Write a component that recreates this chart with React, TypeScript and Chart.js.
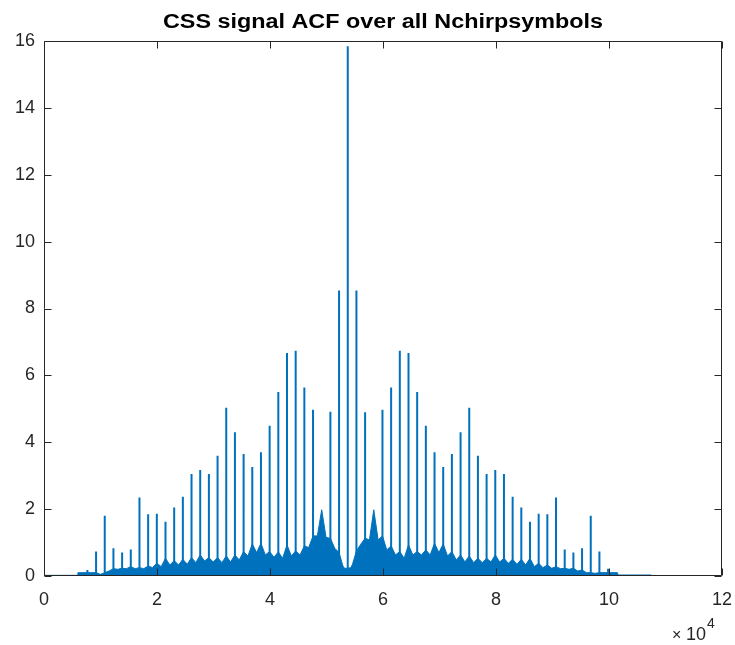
import React, { useEffect, useRef } from "react";
import { Chart, registerables } from "chart.js";

Chart.register(...registerables);

const TITLE = "CSS signal ACF over all Nchirpsymbols";
const X_MIN = 0;
const X_MAX = 120000;
const X_STEP = 20000;
const Y_MIN = 0;
const Y_MAX = 16;
const Y_STEP = 2;
const X_EXPONENT = "4";

// lag positions (samples) of the periodic ACF spikes
const spikeLags = [
  7680, 9216, 10752, 12288, 13824, 15360, 16896, 18432, 19968, 21504, 23040,
  24576, 26112, 27648, 29184, 30720, 32256, 33792, 35328, 36864, 38400, 39936,
  41472, 43008, 44544, 46080, 47616, 50688, 52224, 53760, 55296, 56832, 59904,
  61440, 62976, 64512, 66048, 67584, 69120, 70656, 72192, 73728, 75264, 76800,
  78336, 79872, 81408, 82944, 84480, 86016, 87552, 89088, 90624, 92160, 93696,
  95232, 96768, 98304, 99840,
];
// spike heights
const spikeHeights = [
  0.18, 0.73, 1.8, 0.83, 0.7, 0.79, 2.35, 1.85, 1.86, 1.62, 2.05,
  2.37, 3.05, 3.17, 3.05, 3.6, 5.03, 4.3, 3.65, 3.26, 3.7, 4.49,
  5.5, 6.67, 6.74, 5.64, 4.97, 4.91, 8.54, 15.84, 8.54, 4.9, 4.97,
  5.64, 6.74, 6.67, 5.5, 4.49, 3.7, 3.26, 3.65, 4.3, 5.03, 3.6,
  3.05, 3.17, 3.05, 2.37, 2.05, 1.62, 1.86, 1.85, 2.35, 0.79, 0.7,
  0.83, 1.8, 0.73, 0.22,
];

// envelope of the dense side-lobe floor
const envLags = [
  0, 5900, 6000, 7680, 8448, 9216, 9984, 10752, 11520, 12288, 13056, 13824,
  14592, 15360, 16128, 16896, 17664, 18432, 19200, 19968, 20736, 21504, 22272,
  23040, 23808, 24576, 25344, 26112, 26880, 27648, 28416, 29184, 29952, 30720,
  31488, 32256, 33024, 33792, 34560, 35328, 36096, 36864, 37632, 38400, 39168,
  39936, 40704, 41472, 42240, 43008, 43776, 44544, 45312, 46080, 46848, 47616,
  48384, 49152, 49920, 50688, 51456, 52224, 52900, 53200, 53760, 54300, 54600,
  55296, 56064, 56832, 57600, 58368, 59136, 59904, 60672, 61440, 62208, 62976,
  63744, 64512, 65280, 66048, 66816, 67584, 68352, 69120, 69888, 70656, 71424,
  72192, 72960, 73728, 74496, 75264, 76032, 76800, 77568, 78336, 79104, 79872,
  80640, 81408, 82176, 82944, 83712, 84480, 85248, 86016, 86784, 87552, 88320,
  89088, 89856, 90624, 91392, 92160, 92928, 93696, 94464, 95232, 96000, 96768,
  97536, 98304, 99840, 101500, 101600, 107500, 107520,
];
const envValues = [
  0.02, 0.02, 0.1, 0.1, 0.1, 0.1, 0.05, 0.1, 0.15, 0.22, 0.2, 0.23,
  0.22, 0.28, 0.22, 0.25, 0.22, 0.3, 0.25, 0.38, 0.28, 0.53, 0.33,
  0.46, 0.33, 0.5, 0.35, 0.55, 0.4, 0.63, 0.45, 0.55, 0.42, 0.55,
  0.4, 0.6, 0.42, 0.63, 0.48, 0.73, 0.6, 0.96, 0.7, 0.98, 0.63,
  0.73, 0.56, 0.72, 0.53, 0.93, 0.6, 0.75, 0.63, 0.9, 0.85, 1.2,
  1.2, 1.98, 1.15, 1.13, 0.83, 0.7, 0.3, 0.23, 0.23, 0.25, 0.35,
  0.75, 0.95, 1.13, 1.08, 1.98, 1.08, 1.2, 0.78, 0.9, 0.63, 0.73,
  0.53, 0.93, 0.63, 0.73, 0.63, 0.78, 0.63, 0.98, 0.7, 0.96, 0.6,
  0.73, 0.48, 0.63, 0.42, 0.6, 0.4, 0.53, 0.4, 0.53, 0.42, 0.63,
  0.42, 0.53, 0.38, 0.5, 0.35, 0.5, 0.33, 0.53, 0.28, 0.38, 0.25,
  0.33, 0.23, 0.28, 0.22, 0.23, 0.2, 0.23, 0.15, 0.18, 0.1, 0.1,
  0.08, 0.1, 0.1, 0.1, 0.03, 0.03, 0,
];

const LINE_COLOR = "#0072BD";
const AXIS_COLOR = "#262626";
const FONT_FAMILY = '"Liberation Sans", Arial, Helvetica, sans-serif';
const TICK_FONT_SIZE = 18;
const TITLE_WIDTH = 440;

const framePlugin = {
  id: "matlabFrame",
  afterDraw(chart: any) {
    const { ctx, chartArea: a, scales } = chart;
    const L = Math.round(a.left) + 0.5;
    const R = Math.round(a.right) - 0.5;
    const T = Math.round(a.top) + 0.5;
    const B = Math.round(a.bottom) - 0.5;
    ctx.save();
    ctx.strokeStyle = AXIS_COLOR;
    ctx.lineWidth = 1;
    ctx.beginPath();
    ctx.rect(L, T, R - L, B - T);
    ctx.stroke();
    const tl = 7;
    ctx.beginPath();
    for (let v = X_MIN; v <= X_MAX; v += X_STEP) {
      const px = Math.round(scales.x.getPixelForValue(v)) + 0.5;
      ctx.moveTo(px, B);
      ctx.lineTo(px, B - tl);
      ctx.moveTo(px, T);
      ctx.lineTo(px, T + tl);
    }
    for (let v = Y_MIN; v <= Y_MAX; v += Y_STEP) {
      const py = Math.round(scales.y.getPixelForValue(v)) + 0.5;
      ctx.moveTo(L, py);
      ctx.lineTo(L + tl, py);
      ctx.moveTo(R, py);
      ctx.lineTo(R - tl, py);
    }
    ctx.stroke();

    // title (slightly wide Helvetica-like rendering)
    ctx.save();
    ctx.fillStyle = "#000000";
    ctx.font = `bold 20px ${FONT_FAMILY}`;
    ctx.textAlign = "center";
    ctx.textBaseline = "alphabetic";
    const w = ctx.measureText(TITLE).width;
    ctx.translate((a.left + a.right) / 2, 27.5);
    ctx.scale(TITLE_WIDTH / w, 1);
    ctx.fillText(TITLE, 0, 0);
    ctx.restore();

    // exponent label
    ctx.fillStyle = AXIS_COLOR;
    ctx.textAlign = "left";
    ctx.textBaseline = "alphabetic";
    ctx.font = `16px ${FONT_FAMILY}`;
    ctx.fillText("\u00d7", a.right - 50, 640);
    ctx.font = `${TICK_FONT_SIZE}px ${FONT_FAMILY}`;
    ctx.fillText("10", a.right - 36, 640);
    ctx.font = `14px ${FONT_FAMILY}`;
    ctx.fillText(X_EXPONENT, a.right - 15, 628);
    ctx.restore();
  },
};

export default function App() {
  const ref = useRef<HTMLCanvasElement | null>(null);

  useEffect(() => {
    document.body.style.margin = "0";
    const canvas = ref.current;
    if (!canvas) return;

    const spikeData: any[] = [];
    spikeLags.forEach((x, i) => {
      spikeData.push({ x, y: 0 });
      spikeData.push({ x, y: spikeHeights[i] });
      spikeData.push({ x, y: null });
    });
    const envData = envLags.map((x, i) => ({ x, y: envValues[i] }));

    const chart = new Chart(canvas, {
      type: "line",
      data: {
        datasets: [
          {
            data: spikeData,
            borderColor: LINE_COLOR,
            borderWidth: 2,
            pointRadius: 0,
            spanGaps: false,
            fill: false,
          },
          {
            data: envData,
            borderColor: LINE_COLOR,
            backgroundColor: LINE_COLOR,
            borderWidth: 1,
            pointRadius: 0,
            fill: "origin",
            tension: 0,
          },
        ],
      },
      options: {
        responsive: false,
        animation: false,
        devicePixelRatio: 1,
        layout: { padding: { top: 41, right: 13, bottom: 0, left: 0 } },
        plugins: {
          legend: { display: false },
          tooltip: { enabled: false },
          title: { display: false },
        },
        scales: {
          x: {
            type: "linear",
            min: X_MIN,
            max: X_MAX,
            grid: { display: false, drawTicks: false },
            border: { display: false },
            ticks: {
              stepSize: X_STEP,
              autoSkip: false,
              maxRotation: 0,
              padding: 13,
              color: AXIS_COLOR,
              font: { family: FONT_FAMILY, size: TICK_FONT_SIZE },
              callback: (v: any) => String(Number(v) / 10000),
            },
            afterFit: (s: any) => {
              s.height = 69;
              s.paddingLeft = 0;
              s.paddingRight = 0;
            },
          },
          y: {
            type: "linear",
            min: Y_MIN,
            max: Y_MAX,
            grid: { display: false, drawTicks: false },
            border: { display: false },
            ticks: {
              stepSize: Y_STEP,
              padding: 9,
              color: AXIS_COLOR,
              font: { family: FONT_FAMILY, size: TICK_FONT_SIZE },
            },
            afterFit: (s: any) => {
              s.width = 44;
              s.paddingTop = 0;
              s.paddingBottom = 0;
            },
          },
        },
      },
      plugins: [framePlugin],
    });
    return () => chart.destroy();
  }, []);

  return (
    <div style={{ width: 735, height: 645, background: "#ffffff" }}>
      <canvas ref={ref} width={735} height={645} style={{ display: "block" }} />
    </div>
  );
}
